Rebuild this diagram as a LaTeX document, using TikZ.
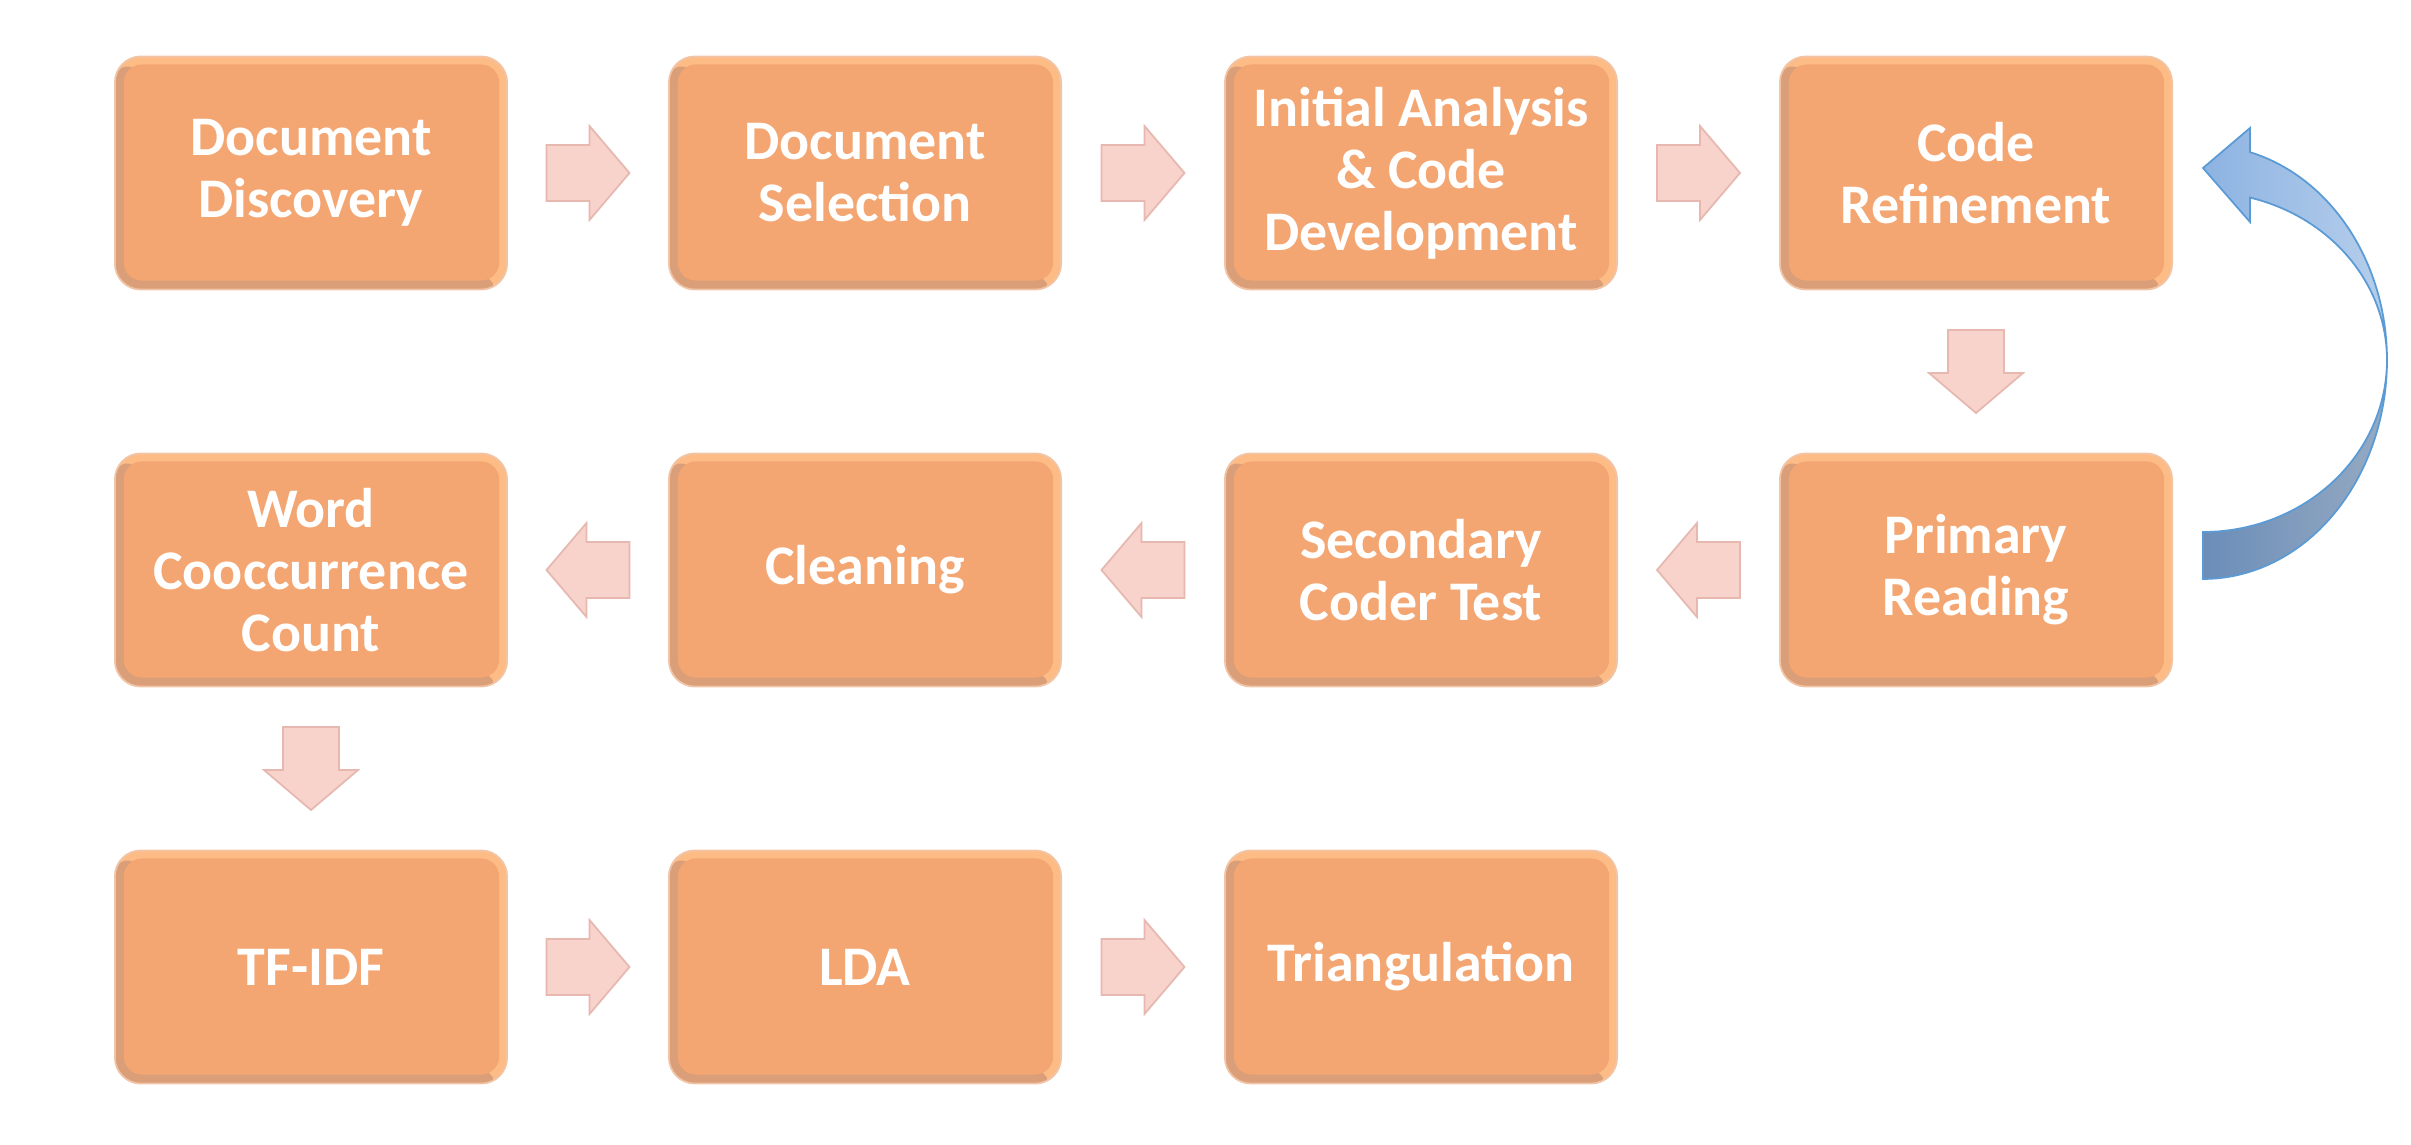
\documentclass[tikz,border=0pt]{standalone}
\usepackage{fontspec}
\setmainfont{Carlito}
\usetikzlibrary{calc}
\definecolor{boxmain}{HTML}{F4A672}
\definecolor{boxlight}{HTML}{FDBC86}
\definecolor{boxdark}{HTML}{DA9E78}
\definecolor{boxedge}{HTML}{F2C4A6}
\definecolor{arrfill}{HTML}{F7D3CC}
\definecolor{arredge}{HTML}{E6B8B0}
\definecolor{bluelA}{HTML}{8DB3E2}
\definecolor{bluelB}{HTML}{B6CEEB}
\definecolor{bluedA}{HTML}{6B8DB8}
\definecolor{bluedB}{HTML}{96AAC2}
\definecolor{blueedge}{HTML}{5B9BD5}
\tikzset{
  stepbox/.style={
    minimum width=3.92cm, minimum height=2.33cm, inner sep=0pt,
    rounded corners=0.26cm, fill=boxlight, draw=boxedge, line width=0.5pt,
    path picture={
      \fill[boxdark] (path picture bounding box.north west) -- (path picture bounding box.south west) -- (path picture bounding box.south east) -- cycle;
      \fill[boxmain, rounded corners=0.18cm] ([shift={(0.09cm,-0.08cm)}]path picture bounding box.north west) rectangle ([shift={(-0.08cm,0.09cm)}]path picture bounding box.south east);
    },
    text=white, align=center, font=\bfseries\fontsize{15.9}{17.6}\selectfont},
  arrowshape/.style={fill=arrfill, draw=arredge, line width=0.5pt, line join=miter},
  blockarrow/.pic={
    \filldraw[arrowshape] (-41.5,-28) -- (1.5,-28) -- (1.5,-47) -- (41.5,0) -- (1.5,47) -- (1.5,28) -- (-41.5,28) -- cycle;
  }
}
\begin{document}
\begin{tikzpicture}[x=0.01cm,y=-0.01cm]
\useasboundingbox[fill=white] (0,0) rectangle (2411,1145);

% row 1
\node[stepbox] (n1) at (311,173) {Document\\Discovery};
\node[stepbox] (n2) at (865,173) {Document\\Selection};
\node[stepbox] (n3) at (1421,173) {Initial Analysis\\\& Code\\Development};
\node[stepbox] (n4) at (1976,173) {Code\\Refinement};
% row 2
\node[stepbox] (n5) at (311,570) {Word\\Cooccurrence\\Count};
\node[stepbox] (n6) at (865,570) {Cleaning};
\node[stepbox] (n7) at (1421,570) {Secondary\\Coder Test};
\node[stepbox] (n8) at (1976,570) {Primary\\Reading};
% row 3
\node[stepbox] (n9) at (311,967) {TF-IDF};
\node[stepbox] (n10) at (865,967) {LDA};
\node[stepbox] (n11) at (1421,967) {Triangulation};

% block arrows
\path ($(n1.east)!0.5!(n2.west)$) pic {blockarrow};
\path ($(n2.east)!0.5!(n3.west)$) pic {blockarrow};
\path ($(n3.east)!0.5!(n4.west)$) pic {blockarrow};
\path ($(n4.south)!0.5!(n8.north)$) pic[rotate=-90] {blockarrow};
\path ($(n8.west)!0.5!(n7.east)$) pic[rotate=180] {blockarrow};
\path ($(n7.west)!0.5!(n6.east)$) pic[rotate=180] {blockarrow};
\path ($(n6.west)!0.5!(n5.east)$) pic[rotate=180] {blockarrow};
\path ($(n5.south)!0.5!(n9.north)$) pic[rotate=-90] {blockarrow};
\path ($(n9.east)!0.5!(n10.west)$) pic {blockarrow};
\path ($(n10.east)!0.5!(n11.west)$) pic {blockarrow};

% curved return arrow (Primary Reading -> Code Refinement)
\coordinate (chead) at (2203,168);
\shade[left color=bluedA, right color=bluedB, draw=blueedge, line width=0.5pt]
  plot[domain=0:-90, samples=40, variable=\t] ({2203+184*cos(\t)},{360-172*sin(\t)})
  -- plot[domain=-90:0, samples=40, variable=\t] ({2203+184*cos(\t)},{360-219*sin(\t)})
  -- cycle;
\shade[left color=bluelA, right color=bluelB, draw=blueedge, line width=0.5pt, line join=miter]
  (chead) -- (2250,128) -- (2250,152)
  -- plot[domain=75.2:0, samples=40, variable=\t] ({2203+184*cos(\t)},{360-215*sin(\t)})
  -- plot[domain=0:75.2, samples=40, variable=\t] ({2203+184*cos(\t)},{360-168*sin(\t)})
  -- (2250,222) -- cycle;
\end{tikzpicture}
\end{document}
